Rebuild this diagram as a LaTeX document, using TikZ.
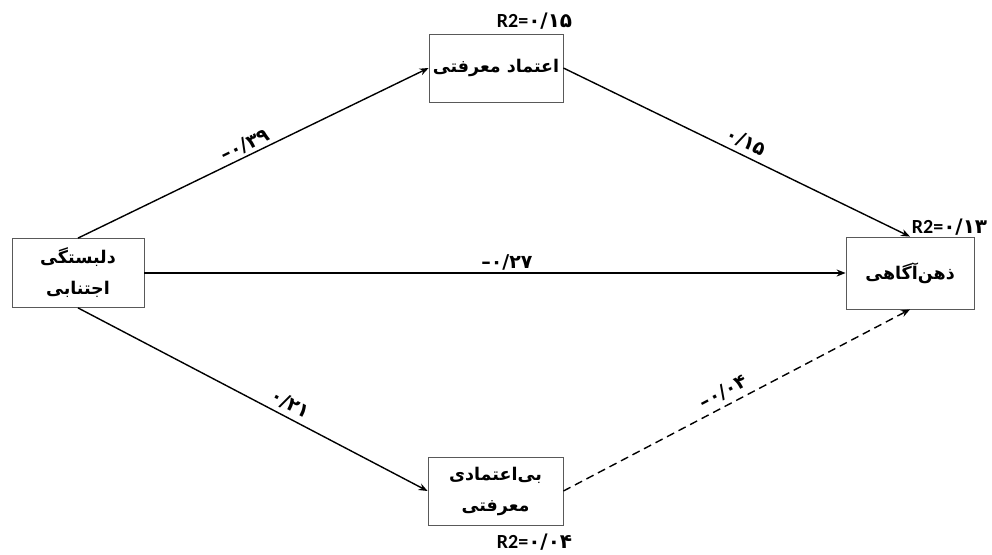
\documentclass[tikz,border=0pt]{standalone}
\usepackage{fontspec}
\TeXXeTstate=1
\newfontfamily\fa[Script=Arabic]{DejaVu Sans}
\newfontfamily\fanum{DejaVu Sans}
\newfontfamily\lat{Carlito}
\usetikzlibrary{arrows.meta}
\begin{document}
\begin{tikzpicture}[x=1pt,y=-1pt,
  box/.style={draw=black!65, line width=0.8pt, align=center, inner sep=0pt,
    font=\fa\bfseries\fontsize{17.5}{31}\selectfont},
  pathline/.style={line width=1.4pt, -{Stealth[length=9pt,width=7pt]}},
  coef/.style={font=\fanum\bfseries\fontsize{19}{20}\selectfont, inner sep=2pt},
  rlab/.style={inner sep=0pt, font=\fontsize{20}{22}\selectfont}]
\useasboundingbox (0,0) rectangle (992,554);
\fill[white] (0,0) rectangle (992,554);
\node[box, minimum width=132pt, minimum height=69pt] (avo) at (78,273) {\beginR دلبستگی\endR\\\beginR اجتنابی\endR};
\node[box, minimum width=134pt, minimum height=68pt] (trust) at (496,68) {\beginR اعتماد معرفتی\endR};
\node[box, minimum width=128pt, minimum height=72pt] (mind) at (910,273) {\beginR ذهن‌آگاهی\endR};
\node[box, minimum width=135pt, minimum height=68pt] (mist) at (495.5,491) {\beginR بی‌اعتمادی\endR\\\beginR معرفتی\endR};
\node[rlab, anchor=base east] (r1) at ([xshift=9pt,yshift=6pt]trust.north east) {{\lat\bfseries R2=}{\fanum\bfseries ۰/۱۵}};
\node[rlab, anchor=base east] (r2) at ([xshift=13pt,yshift=3pt]mind.north east) {{\lat\bfseries R2=}{\fanum\bfseries ۰/۱۳}};
\node[rlab, anchor=base east] (r3) at ([xshift=9pt,yshift=-23pt]mist.south east) {{\lat\bfseries R2=}{\fanum\bfseries ۰/۰۴}};
\draw[pathline] (avo.north) -- node[coef, sloped, above, pos=0.49] {–۰/۳۹} (trust.west);
\draw[pathline] (trust.east) -- node[coef, sloped, above=3pt, pos=0.51] {۰/۱۵} (mind.north);
\draw[pathline] (avo.east) -- node[coef, above, pos=0.517] {–۰/۲۷} (mind.west);
\draw[pathline] (avo.south) -- node[coef, sloped, above=3pt, pos=0.59] {۰/۲۱} (mist.west);
\draw[pathline, dash pattern=on 8pt off 5pt] (mist.east) -- node[coef, sloped, above=3pt, pos=0.48] {–۰/۰۴} (mind.south);
\end{tikzpicture}
\end{document}
